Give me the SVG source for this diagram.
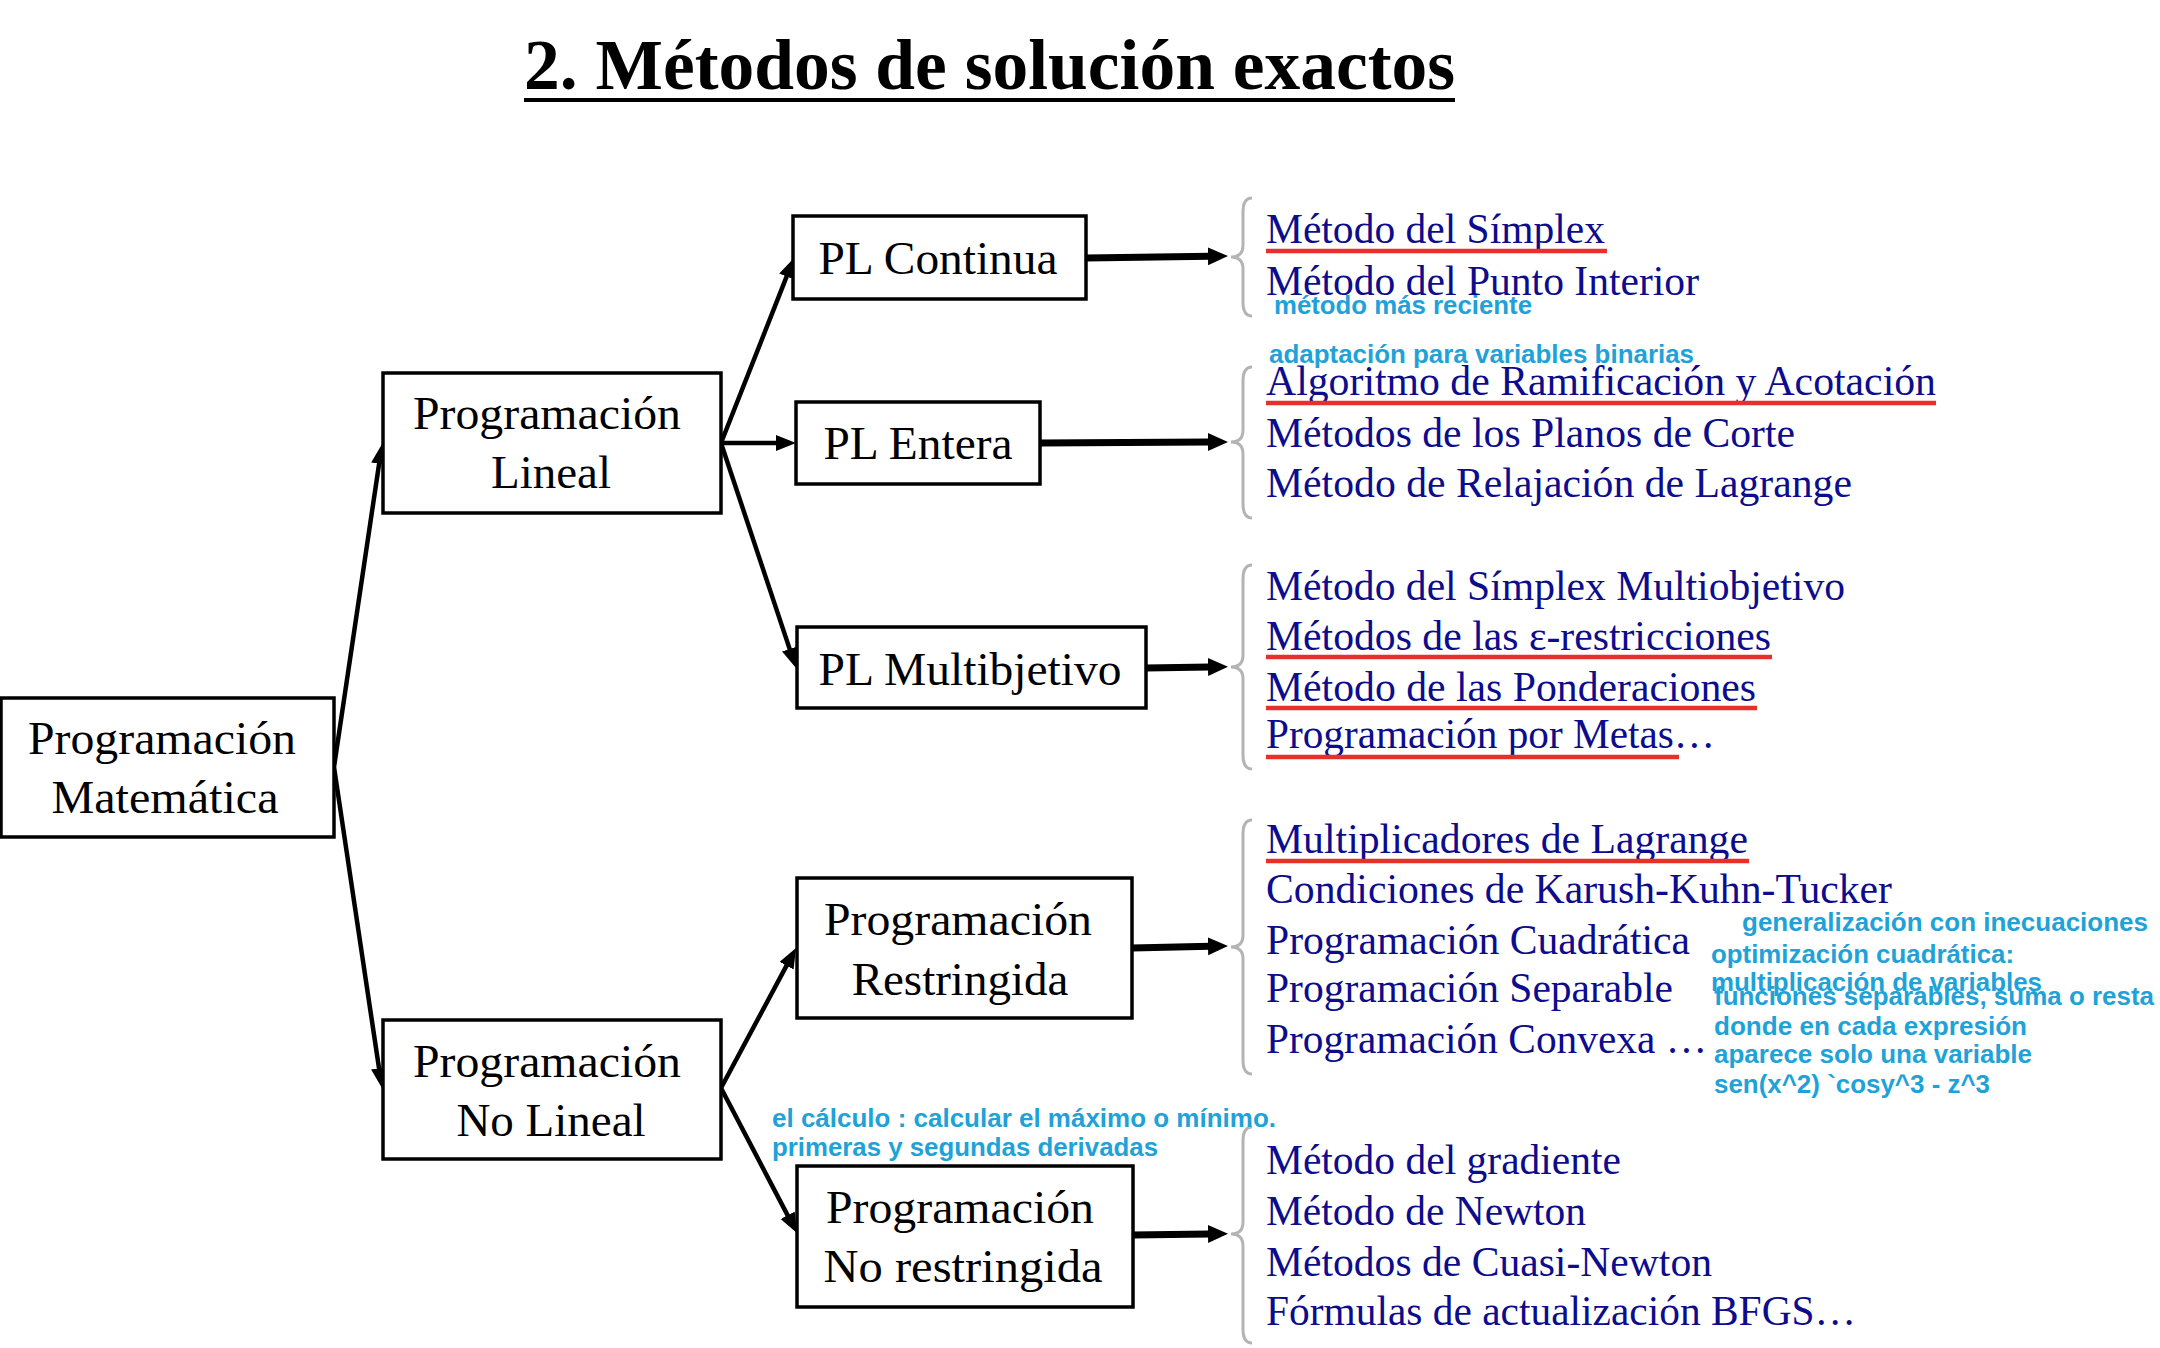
<svg xmlns="http://www.w3.org/2000/svg" width="2160" height="1348" viewBox="0 0 2160 1348">
<style>
.box{fill:#fff;stroke:#000;stroke-width:3.5}
.bt{font-family:"Liberation Serif","Times New Roman",serif;font-size:47px;fill:#000;text-anchor:middle}
.it{font-family:"Liberation Serif","Times New Roman",serif;font-size:41.5px;fill:#0c0c8c}
.an{font-family:"Liberation Sans",Arial,sans-serif;font-size:26px;font-weight:bold;fill:#1ea2d8}
.thin{stroke:#000;stroke-width:4.5;fill:none;marker-end:url(#ah)}
.thick{stroke:#000;stroke-width:7;fill:none;marker-end:url(#ah2)}
.brace{fill:none;stroke:#b4b4b4;stroke-width:3}
.ul{stroke:#e8302a;stroke-width:4.5}
</style>
<defs>
<marker id="ah" markerUnits="userSpaceOnUse" markerWidth="22" markerHeight="18" refX="2" refY="8" orient="auto" viewBox="0 0 22 18">
<path d="M0,0 L20,8 L0,16 z" fill="#000"/>
</marker>
<marker id="ah2" markerUnits="userSpaceOnUse" markerWidth="22" markerHeight="20" refX="2" refY="9" orient="auto" viewBox="0 0 22 20">
<path d="M0,0 L20,9 L0,18 z" fill="#000"/>
</marker>
</defs>
<rect width="2160" height="1348" fill="#fff"/>

<g id="title">
<text x="524" y="89" font-family="'Liberation Serif','Times New Roman',serif" font-size="72" font-weight="bold" textLength="931" lengthAdjust="spacingAndGlyphs">2. Métodos de solución exactos</text>
<line x1="524" y1="100" x2="1455" y2="100" stroke="#000" stroke-width="4"/>
</g>

<g id="connectors">
<line class="thin" x1="334" y1="767" x2="379.4" y2="461.8"/>
<line class="thin" x1="334" y1="767" x2="379.3" y2="1070.2"/>
<line class="thin" x1="721" y1="443" x2="787.4" y2="274.7"/>
<line class="thin" x1="721" y1="443" x2="778" y2="443"/>
<line class="thin" x1="721" y1="443" x2="790.3" y2="650.9"/>
<line class="thin" x1="721" y1="1088" x2="787.5" y2="963.9"/>
<line class="thin" x1="721" y1="1088" x2="788.6" y2="1217.1"/>
<line class="thick" x1="1086" y1="258" x2="1210" y2="256.3"/>
<line class="thick" x1="1040" y1="443" x2="1210" y2="442"/>
<line class="thick" x1="1146" y1="668" x2="1210" y2="667"/>
<line class="thick" x1="1132" y1="948" x2="1210" y2="946.3"/>
<line class="thick" x1="1132" y1="1235" x2="1210" y2="1234"/>
<polygon points="1115,1229 1131,1217 1131,1234" fill="#000"/>
</g>

<g id="n-prog-mat">
<rect class="box" x="1" y="698" width="333" height="139"/>
<text class="bt" x="162" y="754" textLength="268" lengthAdjust="spacingAndGlyphs">Programación</text>
<text class="bt" x="165" y="813" textLength="227" lengthAdjust="spacingAndGlyphs">Matemática</text>
</g>
<g id="n-prog-lineal">
<rect class="box" x="383" y="373" width="338" height="140"/>
<text class="bt" x="547" y="429" textLength="268" lengthAdjust="spacingAndGlyphs">Programación</text>
<text class="bt" x="551" y="488">Lineal</text>
</g>
<g id="n-prog-nolineal">
<rect class="box" x="383" y="1020" width="338" height="139"/>
<text class="bt" x="547" y="1077" textLength="268" lengthAdjust="spacingAndGlyphs">Programación</text>
<text class="bt" x="551" y="1136">No Lineal</text>
</g>
<g id="n-pl-continua">
<rect class="box" x="793" y="216" width="293" height="83"/>
<text class="bt" x="938" y="274" textLength="239" lengthAdjust="spacingAndGlyphs">PL Continua</text>
</g>
<g id="n-pl-entera">
<rect class="box" x="796" y="402" width="244" height="82"/>
<text class="bt" x="918" y="459" textLength="189" lengthAdjust="spacingAndGlyphs">PL Entera</text>
</g>
<g id="n-pl-multi">
<rect class="box" x="797" y="627" width="349" height="81"/>
<text class="bt" x="970" y="685" textLength="303" lengthAdjust="spacingAndGlyphs">PL Multibjetivo</text>
</g>
<g id="n-prog-restringida">
<rect class="box" x="797" y="878" width="335" height="140"/>
<text class="bt" x="958" y="935" textLength="268" lengthAdjust="spacingAndGlyphs">Programación</text>
<text class="bt" x="960" y="995">Restringida</text>
</g>
<g id="n-prog-norestringida">
<rect class="box" x="797" y="1166" width="336" height="141"/>
<text class="bt" x="960" y="1223" textLength="268" lengthAdjust="spacingAndGlyphs">Programación</text>
<text class="bt" x="963" y="1282" textLength="279" lengthAdjust="spacingAndGlyphs">No restringida</text>
</g>

<g id="braces">
<path class="brace" d="M1252,198 Q1243,198 1243,212 L1243,245 Q1243,257 1231,257 Q1243,257 1243,269 L1243,302 Q1243,316 1252,316"/>
<path class="brace" d="M1252,367 Q1243,367 1243,381 L1243,430 Q1243,442 1231,442 Q1243,442 1243,454 L1243,504 Q1243,518 1252,518"/>
<path class="brace" d="M1252,565 Q1243,565 1243,579 L1243,655 Q1243,667 1231,667 Q1243,667 1243,679 L1243,755 Q1243,769 1252,769"/>
<path class="brace" d="M1252,820 Q1243,820 1243,834 L1243,935 Q1243,947 1231,947 Q1243,947 1243,959 L1243,1060 Q1243,1074 1252,1074"/>
<path class="brace" d="M1252,1127 Q1243,1127 1243,1141 L1243,1222 Q1243,1234 1231,1234 Q1243,1234 1243,1246 L1243,1329 Q1243,1343 1252,1343"/>
</g>

<g id="list-continua">
<text class="it" x="1266" y="243" textLength="339" lengthAdjust="spacingAndGlyphs">Método del Símplex</text>
<line class="ul" x1="1266" y1="251" x2="1607" y2="251"/>
<text class="it" x="1266" y="295" textLength="433" lengthAdjust="spacingAndGlyphs">Método del Punto Interior</text>
</g>
<g id="list-entera">
<text class="it" x="1266" y="395" textLength="670" lengthAdjust="spacingAndGlyphs">Algoritmo de Ramificación y Acotación</text>
<line class="ul" x1="1266" y1="403" x2="1936" y2="403"/>
<text class="it" x="1266" y="447" textLength="529" lengthAdjust="spacingAndGlyphs">Métodos de los Planos de Corte</text>
<text class="it" x="1266" y="497" textLength="586" lengthAdjust="spacingAndGlyphs">Método de Relajación de Lagrange</text>
</g>
<g id="list-multi">
<text class="it" x="1266" y="600" textLength="579" lengthAdjust="spacingAndGlyphs">Método del Símplex Multiobjetivo</text>
<text class="it" x="1266" y="650" textLength="505" lengthAdjust="spacingAndGlyphs">Métodos de las ε-restricciones</text>
<line class="ul" x1="1266" y1="657" x2="1772" y2="657"/>
<text class="it" x="1266" y="701" textLength="490" lengthAdjust="spacingAndGlyphs">Método de las Ponderaciones</text>
<line class="ul" x1="1266" y1="708" x2="1757" y2="708"/>
<text class="it" x="1266" y="748" textLength="449" lengthAdjust="spacingAndGlyphs">Programación por Metas…</text>
<line class="ul" x1="1266" y1="757" x2="1679" y2="757"/>
</g>
<g id="list-restringida">
<text class="it" x="1266" y="853" textLength="482" lengthAdjust="spacingAndGlyphs">Multiplicadores de Lagrange</text>
<line class="ul" x1="1266" y1="861" x2="1749" y2="861"/>
<text class="it" x="1266" y="903" textLength="626" lengthAdjust="spacingAndGlyphs">Condiciones de Karush-Kuhn-Tucker</text>
<text class="it" x="1266" y="954" textLength="424" lengthAdjust="spacingAndGlyphs">Programación Cuadrática</text>
<text class="it" x="1266" y="1002" textLength="407" lengthAdjust="spacingAndGlyphs">Programación Separable</text>
<text class="it" x="1266" y="1053" textLength="441" lengthAdjust="spacingAndGlyphs">Programación Convexa …</text>
</g>
<g id="list-norestringida">
<text class="it" x="1266" y="1174" textLength="355" lengthAdjust="spacingAndGlyphs">Método del gradiente</text>
<text class="it" x="1266" y="1225" textLength="320" lengthAdjust="spacingAndGlyphs">Método de Newton</text>
<text class="it" x="1266" y="1276" textLength="446" lengthAdjust="spacingAndGlyphs">Métodos de Cuasi-Newton</text>
<text class="it" x="1266" y="1325" textLength="590" lengthAdjust="spacingAndGlyphs">Fórmulas de actualización BFGS…</text>
</g>

<g id="annotations">
<text class="an" x="1274" y="314" textLength="258" lengthAdjust="spacingAndGlyphs">método más reciente</text>
<text class="an" x="1269" y="363" textLength="425" lengthAdjust="spacingAndGlyphs">adaptación para variables binarias</text>
<text class="an" x="1742" y="931" textLength="406" lengthAdjust="spacingAndGlyphs">generalización con inecuaciones</text>
<text class="an" x="1711" y="963" textLength="303" lengthAdjust="spacingAndGlyphs">optimización cuadrática:</text>
<text class="an" x="1711" y="991" textLength="331" lengthAdjust="spacingAndGlyphs">multiplicación de variables</text>
<text class="an" x="1714" y="1005" textLength="440" lengthAdjust="spacingAndGlyphs">funciones separables, suma o resta</text>
<text class="an" x="1714" y="1035" textLength="313" lengthAdjust="spacingAndGlyphs">donde en cada expresión</text>
<text class="an" x="1714" y="1063" textLength="318" lengthAdjust="spacingAndGlyphs">aparece solo una variable</text>
<text class="an" x="1714" y="1093" textLength="276" lengthAdjust="spacingAndGlyphs">sen(x^2) `cosy^3 - z^3</text>
<text class="an" x="772" y="1127" textLength="504" lengthAdjust="spacingAndGlyphs">el cálculo : calcular el máximo o mínimo.</text>
<text class="an" x="772" y="1156" textLength="386" lengthAdjust="spacingAndGlyphs">primeras y segundas derivadas</text>
</g>
</svg>
